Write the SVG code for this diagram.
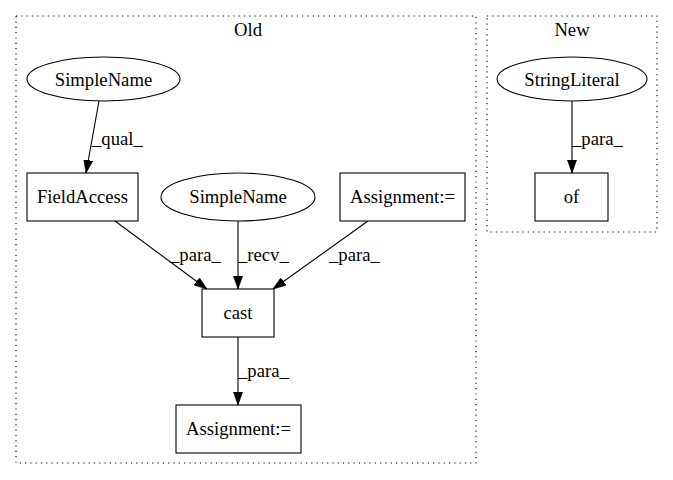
<svg xmlns="http://www.w3.org/2000/svg" width="673" height="480" viewBox="0 0 673 480">
<style>
text{font-family:'Liberation Serif','Times New Roman',Times,serif;font-size:18.67px;fill:#000}
.c{text-anchor:middle}
.n{fill:#fff;stroke:#000;stroke-width:1.1}
.cl{fill:none;stroke:#000;stroke-width:1.1;stroke-dasharray:1.2,4.1}
.e{fill:none;stroke:#000;stroke-width:1.1}
</style>
<defs>
<marker id="a" viewBox="0 0 10 7" refX="10" refY="3.5" markerWidth="13" markerHeight="9.5" markerUnits="userSpaceOnUse" orient="auto">
<path d="M0,0L10,3.5L0,7z" fill="#000" stroke="#000" stroke-width="0.5"/>
</marker>
</defs>
<rect width="673" height="480" fill="#fff"/>
<g id="cluster_old">
<rect class="cl" x="16" y="16" width="460" height="447"/>
<text class="c" x="248" y="36">Old</text>
</g>
<g id="cluster_new">
<rect class="cl" x="487" y="16" width="170" height="216"/>
<text class="c" x="572" y="36">New</text>
</g>
<g id="edges">
<path class="e" d="M99,101L86,173" marker-end="url(#a)"/>
<text x="92" y="145">_qual_</text>
<path class="e" d="M115,221L207,289" marker-end="url(#a)"/>
<text x="170" y="261">_para_</text>
<path class="e" d="M238,221L238,289" marker-end="url(#a)"/>
<text x="238" y="261">_recv_</text>
<path class="e" d="M368,221L273,289" marker-end="url(#a)"/>
<text x="329" y="261">_para_</text>
<path class="e" d="M238,337L238,405" marker-end="url(#a)"/>
<text x="238" y="377">_para_</text>
<path class="e" d="M572,101L572,173" marker-end="url(#a)"/>
<text x="572" y="145">_para_</text>
</g>
<g id="n_simplename1">
<ellipse class="n" cx="103.5" cy="79" rx="76.5" ry="22"/>
<text class="c" x="103.5" y="86">SimpleName</text>
</g>
<g id="n_fieldaccess">
<rect class="n" x="27" y="173" width="111" height="48"/>
<text class="c" x="82.5" y="203">FieldAccess</text>
</g>
<g id="n_simplename2">
<ellipse class="n" cx="238" cy="197" rx="77" ry="24"/>
<text class="c" x="238" y="203">SimpleName</text>
</g>
<g id="n_assign1">
<rect class="n" x="340" y="173" width="125" height="48"/>
<text class="c" x="402.5" y="203">Assignment:=</text>
</g>
<g id="n_cast">
<rect class="n" x="202" y="289" width="72" height="48"/>
<text class="c" x="238" y="319">cast</text>
</g>
<g id="n_assign2">
<rect class="n" x="176" y="405" width="125" height="48"/>
<text class="c" x="238.5" y="435">Assignment:=</text>
</g>
<g id="n_stringliteral">
<ellipse class="n" cx="572" cy="79" rx="75" ry="22"/>
<text class="c" x="572" y="86">StringLiteral</text>
</g>
<g id="n_of">
<rect class="n" x="535" y="173" width="73" height="48"/>
<text class="c" x="571.5" y="203">of</text>
</g>
</svg>
